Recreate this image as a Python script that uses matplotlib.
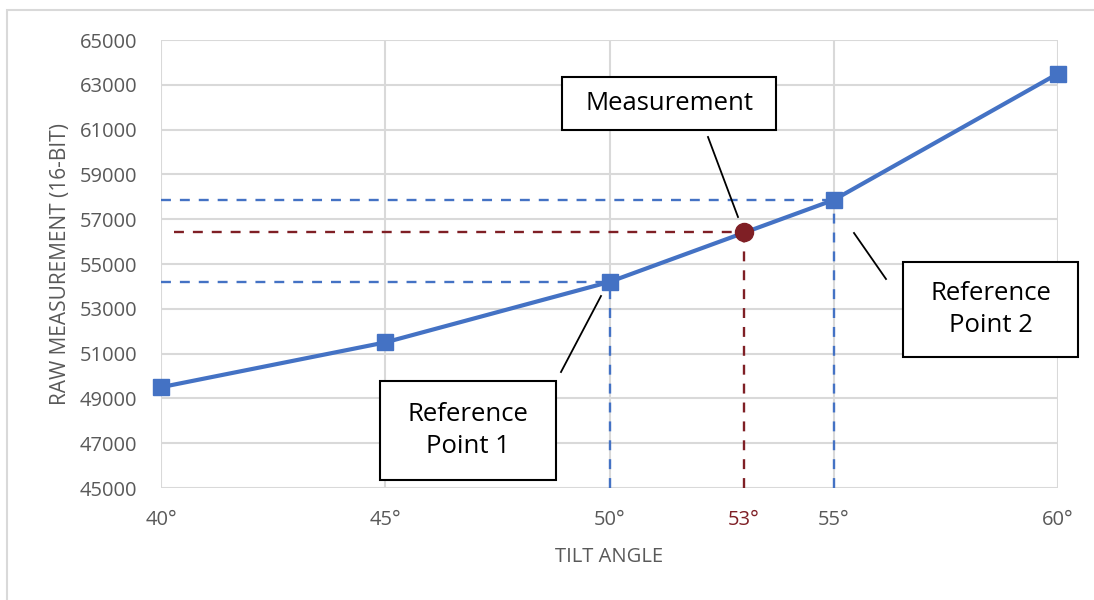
import matplotlib
matplotlib.use("Agg")
import matplotlib.pyplot as plt
from matplotlib.lines import Line2D
from matplotlib.patches import Rectangle

plt.rcParams["font.family"] = ["Open Sans", "DejaVu Sans"]

angles = [40, 45, 50, 55, 60]
raw = [49500, 51500, 54200, 57860, 63500]
ref1 = (50, 54200)
ref2 = (55, 57860)
meas = (53, 56420)
yticks = list(range(45000, 65001, 2000))
xticks = [40, 45, 50, 53, 55, 60]

BLUE = "#4472C4"
RED = "#7F1F25"
GRID = "#D9D9D9"
TXT = "#595959"

W, H = 1094, 600
fig = plt.figure(figsize=(W / 100, H / 100), dpi=100)
ax = fig.add_axes([161 / W, 1 - 488 / H, (1058 - 161) / W, (488 - 40) / H])

def px(x, y):
    return x / W, 1 - y / H

# outer chart frame
fig.add_artist(Rectangle(px(7, 640), 1200 / W, 630 / H, transform=fig.transFigure,
                         fill=False, edgecolor=GRID, lw=1.5))

ax.set_xlim(40, 60)
ax.set_ylim(45000, 65000)
for y in yticks:
    ax.axhline(y, color=GRID, lw=1.5, zorder=0)
for x in [40, 45, 50, 55, 60]:
    ax.axvline(x, color=GRID, lw=1.5, zorder=0)
for s in ax.spines.values():
    s.set_visible(False)

dash = (0, (4.2, 3.8))
# reference guides
for (x0, y0) in [ref1, ref2]:
    ax.plot([40, x0], [y0, y0], color=BLUE, lw=1.7, linestyle=dash, zorder=1)
    ax.plot([x0, x0], [45000, y0], color=BLUE, lw=1.7, linestyle=dash, zorder=1)
ax.plot([40.3, meas[0]], [meas[1], meas[1]], color=RED, lw=1.7, linestyle=dash, zorder=1)
ax.plot([meas[0], meas[0]], [45000, meas[1]], color=RED, lw=1.7, linestyle=dash, zorder=1)

ax.plot(angles, raw, color=BLUE, lw=3, marker="s", markersize=12, zorder=3, clip_on=False)
ax.plot([meas[0]], [meas[1]], "o", color=RED, markersize=13, zorder=4)

ax.set_yticks(yticks)
ax.set_yticklabels([str(v) for v in yticks])
ax.set_xticks(xticks)
ax.set_xticklabels([f"{v}°" for v in xticks])
ax.tick_params(length=0, labelsize=14.5, labelcolor=TXT)
ax.tick_params(axis="y", pad=17)
ax.tick_params(axis="x", pad=16)
for lbl, v in zip(ax.get_xticklabels(), xticks):
    if v == meas[0]:
        lbl.set_color(RED)

ax.set_xlabel("TILT ANGLE", fontsize=14.5, color=TXT, labelpad=12)
ax.set_ylabel("RAW MEASUREMENT (16-BIT)", fontsize=15, color=TXT, labelpad=6)

# callouts
def callout(x0, y0, x1, y1, text, lx0, ly0, lx1, ly1):
    fig.add_artist(Rectangle(px(x0, y1), (x1 - x0) / W, (y1 - y0) / H,
                             transform=fig.transFigure, facecolor="white",
                             edgecolor="black", lw=1.5, zorder=5))
    cx, cy = px((x0 + x1) / 2, (y0 + y1) / 2)
    fig.text(cx, cy, text, ha="center", va="center", fontsize=18.5,
             color="black", linespacing=1.35, zorder=6)
    a, b = px(lx0, ly0)
    c, d = px(lx1, ly1)
    fig.add_artist(Line2D([a, c], [b, d], transform=fig.transFigure,
                          color="black", lw=1.3, zorder=5))

callout(562, 77, 776, 130, "Measurement", 708, 137, 738, 217)
callout(380, 381, 556, 480, "Reference\nPoint 1", 561, 372, 601, 296)
callout(903, 262, 1078, 357, "Reference\nPoint 2", 886, 279, 854, 233)

fig.savefig("out.png", dpi=100)
